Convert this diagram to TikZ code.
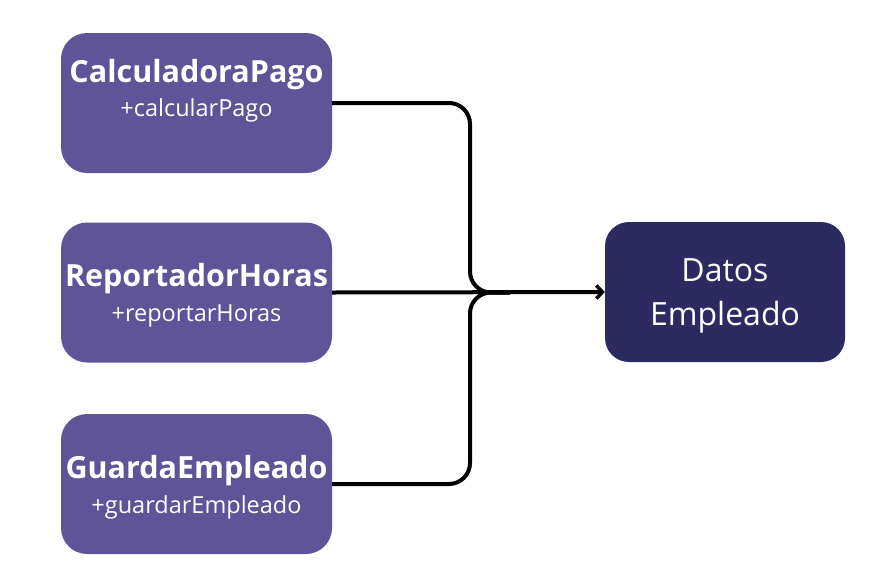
\documentclass[tikz,border=0pt]{standalone}
\usepackage{fontspec}
\setmainfont{Open Sans}
\usetikzlibrary{arrows.meta}
\definecolor{boxpurple}{HTML}{5E5497}
\definecolor{boxnavy}{HTML}{2B2B62}
\tikzset{
  classbox/.style={draw=none, fill=boxpurple, rounded corners=26pt, minimum width=271pt, minimum height=140pt, inner sep=0pt},
  databox/.style={draw=none, fill=boxnavy, rounded corners=24pt, minimum width=240pt, minimum height=140pt, inner sep=0pt},
  titletext/.style={text=white, font=\fontsize{30.5}{34}\selectfont\bfseries, inner sep=0pt},
  subtext/.style={text=white, font=\fontsize{23.5}{27}\selectfont, inner sep=0pt},
  datatext/.style={text=white, font=\fontsize{32}{44}\selectfont, align=center, inner sep=0pt},
  conn/.style={line width=4pt, black, rounded corners=21pt},
}
\begin{document}
\begin{tikzpicture}[x=1pt,y=-1pt]
\useasboundingbox (0,0) rectangle (876,582);
\node[classbox] (calc) at (196.5,103) {};
\node[classbox] (rep) at (196.5,292.5) {};
\node[classbox] (guar) at (196.5,484) {};
\node[databox] (dat) at (725,292) {};
\node[titletext] (calct) at (196.5,75) {CalculadoraPago};
\node[subtext] (calcs) at (196.5,110.5) {+calcularPago};
\node[titletext] (rept) at (196.5,279) {ReportadorHoras};
\node[subtext] (reps) at (196.5,315.5) {+reportarHoras};
\node[titletext] (guart) at (196.5,471) {GuardaEmpleado};
\node[subtext] (guars) at (196.5,507.5) {+guardarEmpleado};
\node[datatext] (datt) at (725,296) {Datos\\Empleado};
\coordinate (j) at (470,292.5);
\coordinate (m) at (510,292.5);
\draw[conn] (calc.east) -| (j) -- (m);
\draw[conn] (guar.east) -| (j) -- (m);
\draw[line width=4pt, -{Straight Barb[length=6pt,width=13pt,line width=3.5pt]}] (rep.east) -- (dat.west);
\end{tikzpicture}
\end{document}
